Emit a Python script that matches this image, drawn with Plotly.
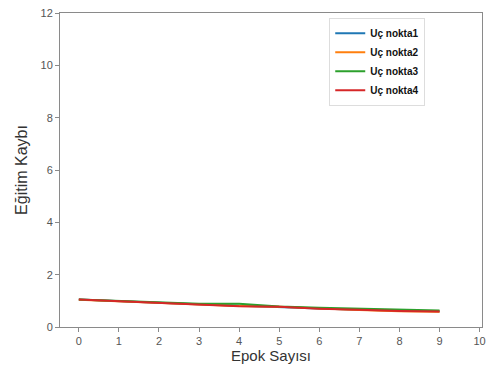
import plotly.graph_objects as go

# Training loss per epoch for four endpoints
epochs = [0, 1, 2, 3, 4, 5, 6, 7, 8, 9]
names = ["Uç nokta1", "Uç nokta2", "Uç nokta3", "Uç nokta4"]
loss_1 = [1.05, 0.98, 0.93, 0.87, 0.81, 0.77, 0.71, 0.66, 0.62, 0.60]
loss_2 = [1.04, 0.98, 0.93, 0.86, 0.80, 0.77, 0.70, 0.65, 0.60, 0.58]
loss_3 = [1.05, 0.99, 0.95, 0.89, 0.89, 0.78, 0.74, 0.71, 0.68, 0.63]
loss_4 = [1.05, 0.98, 0.93, 0.86, 0.79, 0.77, 0.70, 0.66, 0.61, 0.59]
colors = ["#1f77b4", "#ff7f0e", "#2ca02c", "#d62728"]

y_ticks = [0, 2, 4, 6, 8, 10, 12]
x_ticks = [0, 1, 2, 3, 4, 5, 6, 7, 8, 9, 10]

fig = go.Figure()
for name, vals, col in zip(names, [loss_1, loss_2, loss_3, loss_4], colors):
    fig.add_trace(go.Scatter(x=epochs, y=vals, mode="lines", name=name,
                             line=dict(color=col, width=2)))

axis_common = dict(
    showline=True, linecolor="#8a8a8a", linewidth=1, mirror=True,
    showgrid=False, zeroline=False,
    ticks="outside", ticklen=4, tickcolor="#8a8a8a", tickwidth=1,
    ticklabeloverflow="allow",
    tickfont=dict(family="Liberation Sans, Arial, sans-serif", size=11, color="#555555"),
)

fig.update_layout(
    width=488, height=367,
    margin=dict(l=60, r=2, t=13, b=40),
    paper_bgcolor="white", plot_bgcolor="white",
    font=dict(family="Liberation Sans, Arial, sans-serif", color="#333333"),
    xaxis=dict(range=[-0.47, 10.06], tickvals=x_ticks,
               title=dict(text="Epok Sayısı", font=dict(size=15, color="#333333"), standoff=2),
               **axis_common),
    yaxis=dict(range=[0, 12], tickvals=y_ticks,
               title=dict(text="Eğitim Kaybı", font=dict(size=16, color="#333333"), standoff=8),
               **axis_common),
    legend=dict(x=0.638, y=0.985, xanchor="left", yanchor="top",
                bgcolor="white", bordercolor="#dddddd", borderwidth=1,
                font=dict(size=10, color="#111111", family="Liberation Sans, Arial, sans-serif", weight="bold"),
                tracegroupgap=0, itemwidth=30),
    showlegend=True,
)

fig.write_html("out.html")
